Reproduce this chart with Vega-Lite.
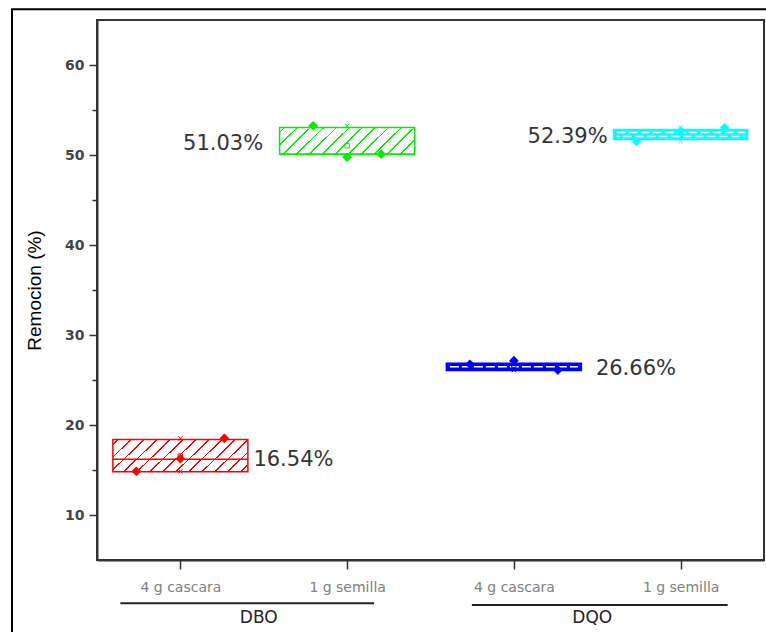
{
  "$schema": "https://vega.github.io/schema/vega-lite/v6.json",
  "width": 667,
  "height": 540,
  "autosize": {"type": "none"},
  "padding": {"left": 97, "top": 20, "right": 2, "bottom": 72},
  "background": "white",
  "config": {
    "view": {"stroke": "#333", "strokeWidth": 2},
    "axis": {"domainColor": "#333", "domainWidth": 2, "tickColor": "#333", "tickWidth": 1.5, "grid": false}
  },
  "datasets": {
    "boxes": [
      {"pos": 1, "group": "DBO", "material": "4 g cascara", "cat": "DBO 4 g cascara", "lower": 14.8, "upper": 18.4, "median": 16.2, "mean": 16.54, "min": 14.85, "max": 18.52, "label": "16.54%"},
      {"pos": 2, "group": "DBO", "material": "1 g semilla", "cat": "DBO 1 g semilla", "lower": 50.08, "upper": 53.05, "median": 50.08, "mean": 51.03, "min": 49.75, "max": 53.25, "label": "51.03%"},
      {"pos": 3, "group": "DQO", "material": "4 g cascara", "cat": "DQO 4 g cascara", "lower": 26.05, "upper": 26.87, "median": 26.47, "mean": 26.66, "min": 26.1, "max": 27.15, "label": "26.66%"},
      {"pos": 4, "group": "DQO", "material": "1 g semilla", "cat": "DQO 1 g semilla", "lower": 51.72, "upper": 52.82, "median": 52.27, "mean": 52.39, "min": 51.5, "max": 53.02, "label": "52.39%"}
    ],
    "points": [
      {"pos": 1, "cat": "DBO 4 g cascara", "rep": 1, "value": 14.85},
      {"pos": 1, "cat": "DBO 4 g cascara", "rep": 2, "value": 16.25},
      {"pos": 1, "cat": "DBO 4 g cascara", "rep": 3, "value": 18.52},
      {"pos": 2, "cat": "DBO 1 g semilla", "rep": 1, "value": 53.25},
      {"pos": 2, "cat": "DBO 1 g semilla", "rep": 2, "value": 49.75},
      {"pos": 2, "cat": "DBO 1 g semilla", "rep": 3, "value": 50.1},
      {"pos": 3, "cat": "DQO 4 g cascara", "rep": 1, "value": 26.75},
      {"pos": 3, "cat": "DQO 4 g cascara", "rep": 2, "value": 27.15},
      {"pos": 3, "cat": "DQO 4 g cascara", "rep": 3, "value": 26.1},
      {"pos": 4, "cat": "DQO 1 g semilla", "rep": 1, "value": 51.5},
      {"pos": 4, "cat": "DQO 1 g semilla", "rep": 2, "value": 52.65},
      {"pos": 4, "cat": "DQO 1 g semilla", "rep": 3, "value": 53.02}
    ],
    "groups": [
      {"group": "DBO", "start": 1, "end": 2, "mid": 1.5},
      {"group": "DQO", "start": 3, "end": 4, "mid": 3.5}
    ]
  },
  "data": {"name": "boxes"},
  "layer": [
    {
      "transform": [{"filter": "datum.pos == 1"}],
      "mark": {
        "type": "bar", "width": 135, "stroke": "#ff0000", "strokeWidth": 1.5,
        "fill": {"gradient": "linear", "x1": 0, "y1": 0, "x2": 1.1743, "y2": 0.287, "stops": [
          {"offset": 0, "color": "#ffffff"},
          {"offset": 0.0245, "color": "#ffffff"}, {"offset": 0.0245, "color": "#ff0000"}, {"offset": 0.0355, "color": "#ff0000"}, {"offset": 0.0355, "color": "#ffffff"},
          {"offset": 0.1015, "color": "#ffffff"}, {"offset": 0.1015, "color": "#ff0000"}, {"offset": 0.1125, "color": "#ff0000"}, {"offset": 0.1125, "color": "#ffffff"},
          {"offset": 0.1795, "color": "#ffffff"}, {"offset": 0.1795, "color": "#ff0000"}, {"offset": 0.1905, "color": "#ff0000"}, {"offset": 0.1905, "color": "#ffffff"},
          {"offset": 0.2565, "color": "#ffffff"}, {"offset": 0.2565, "color": "#ff0000"}, {"offset": 0.2675, "color": "#ff0000"}, {"offset": 0.2675, "color": "#ffffff"},
          {"offset": 0.3345, "color": "#ffffff"}, {"offset": 0.3345, "color": "#ff0000"}, {"offset": 0.3455, "color": "#ff0000"}, {"offset": 0.3455, "color": "#ffffff"},
          {"offset": 0.4115, "color": "#ffffff"}, {"offset": 0.4115, "color": "#ff0000"}, {"offset": 0.4225, "color": "#ff0000"}, {"offset": 0.4225, "color": "#ffffff"},
          {"offset": 0.4885, "color": "#ffffff"}, {"offset": 0.4885, "color": "#ff0000"}, {"offset": 0.4995, "color": "#ff0000"}, {"offset": 0.4995, "color": "#ffffff"},
          {"offset": 0.5665, "color": "#ffffff"}, {"offset": 0.5665, "color": "#ff0000"}, {"offset": 0.5775, "color": "#ff0000"}, {"offset": 0.5775, "color": "#ffffff"},
          {"offset": 0.6435, "color": "#ffffff"}, {"offset": 0.6435, "color": "#ff0000"}, {"offset": 0.6545, "color": "#ff0000"}, {"offset": 0.6545, "color": "#ffffff"},
          {"offset": 0.7215, "color": "#ffffff"}, {"offset": 0.7215, "color": "#ff0000"}, {"offset": 0.7325, "color": "#ff0000"}, {"offset": 0.7325, "color": "#ffffff"},
          {"offset": 0.7985, "color": "#ffffff"}, {"offset": 0.7985, "color": "#ff0000"}, {"offset": 0.8095, "color": "#ff0000"}, {"offset": 0.8095, "color": "#ffffff"},
          {"offset": 0.8755, "color": "#ffffff"}, {"offset": 0.8755, "color": "#ff0000"}, {"offset": 0.8865, "color": "#ff0000"}, {"offset": 0.8865, "color": "#ffffff"},
          {"offset": 0.9535, "color": "#ffffff"}, {"offset": 0.9535, "color": "#ff0000"}, {"offset": 0.9645, "color": "#ff0000"}, {"offset": 0.9645, "color": "#ffffff"},
          {"offset": 1, "color": "#ffffff"}
        ]}
      },
      "encoding": {
        "x": {
          "field": "pos", "type": "quantitative",
          "scale": {"domain": [0.5, 4.5], "nice": false, "zero": false, "padding": 0},
          "axis": {
            "values": [1, 2, 3, 4],
            "labelExpr": "datum.value == 1 || datum.value == 3 ? '4 g cascara' : '1 g semilla'",
            "title": null, "tickSize": 9, "labelPadding": 11,
            "labelFont": "DejaVu Sans", "labelFontSize": 14, "labelColor": "#808080",
            "labelFlush": false, "labelOverlap": false
          }
        },
        "y": {
          "field": "lower", "type": "quantitative",
          "scale": {"domain": [5, 65], "nice": false, "zero": false, "padding": 0},
          "axis": {
            "values": [10, 15, 20, 25, 30, 35, 40, 45, 50, 55, 60],
            "labelExpr": "datum.value % 10 == 0 ? datum.label : ''",
            "tickSize": {"condition": {"test": "datum.value % 10 != 0", "value": 5}, "value": 8},
            "labelFont": "DejaVu Sans", "labelFontWeight": "bold", "labelFontSize": 14, "labelColor": "#444", "labelPadding": 5,
            "title": "Remocion (%)", "titleFont": "Liberation Sans", "titleFontSize": 19, "titleFontWeight": "normal", "titleColor": "#000", "titlePadding": 20
          }
        },
        "y2": {"field": "upper"}
      }
    },
    {
      "transform": [{"filter": "datum.pos == 2"}],
      "mark": {
        "type": "bar", "width": 135, "stroke": "#00ee00", "strokeWidth": 1.5,
        "fill": {"gradient": "linear", "x1": 0, "y1": 0, "x2": 1.1538, "y2": 0.2308, "stops": [
          {"offset": 0, "color": "#ffffff"},
          {"offset": 0.0242, "color": "#ffffff"}, {"offset": 0.0242, "color": "#00ee00"}, {"offset": 0.0358, "color": "#00ee00"}, {"offset": 0.0358, "color": "#ffffff"},
          {"offset": 0.1042, "color": "#ffffff"}, {"offset": 0.1042, "color": "#00ee00"}, {"offset": 0.1158, "color": "#00ee00"}, {"offset": 0.1158, "color": "#ffffff"},
          {"offset": 0.1842, "color": "#ffffff"}, {"offset": 0.1842, "color": "#00ee00"}, {"offset": 0.1958, "color": "#00ee00"}, {"offset": 0.1958, "color": "#ffffff"},
          {"offset": 0.2652, "color": "#ffffff"}, {"offset": 0.2652, "color": "#00ee00"}, {"offset": 0.2768, "color": "#00ee00"}, {"offset": 0.2768, "color": "#ffffff"},
          {"offset": 0.3452, "color": "#ffffff"}, {"offset": 0.3452, "color": "#00ee00"}, {"offset": 0.3568, "color": "#00ee00"}, {"offset": 0.3568, "color": "#ffffff"},
          {"offset": 0.4252, "color": "#ffffff"}, {"offset": 0.4252, "color": "#00ee00"}, {"offset": 0.4368, "color": "#00ee00"}, {"offset": 0.4368, "color": "#ffffff"},
          {"offset": 0.5052, "color": "#ffffff"}, {"offset": 0.5052, "color": "#00ee00"}, {"offset": 0.5168, "color": "#00ee00"}, {"offset": 0.5168, "color": "#ffffff"},
          {"offset": 0.5852, "color": "#ffffff"}, {"offset": 0.5852, "color": "#00ee00"}, {"offset": 0.5968, "color": "#00ee00"}, {"offset": 0.5968, "color": "#ffffff"},
          {"offset": 0.6662, "color": "#ffffff"}, {"offset": 0.6662, "color": "#00ee00"}, {"offset": 0.6778, "color": "#00ee00"}, {"offset": 0.6778, "color": "#ffffff"},
          {"offset": 0.7462, "color": "#ffffff"}, {"offset": 0.7462, "color": "#00ee00"}, {"offset": 0.7578, "color": "#00ee00"}, {"offset": 0.7578, "color": "#ffffff"},
          {"offset": 0.8262, "color": "#ffffff"}, {"offset": 0.8262, "color": "#00ee00"}, {"offset": 0.8378, "color": "#00ee00"}, {"offset": 0.8378, "color": "#ffffff"},
          {"offset": 0.9062, "color": "#ffffff"}, {"offset": 0.9062, "color": "#00ee00"}, {"offset": 0.9178, "color": "#00ee00"}, {"offset": 0.9178, "color": "#ffffff"},
          {"offset": 0.9862, "color": "#ffffff"}, {"offset": 0.9862, "color": "#00ee00"}, {"offset": 0.9978, "color": "#00ee00"}, {"offset": 0.9978, "color": "#ffffff"},
          {"offset": 1, "color": "#ffffff"}
        ]}
      },
      "encoding": {
        "x": {"field": "pos", "type": "quantitative"},
        "y": {"field": "lower", "type": "quantitative"},
        "y2": {"field": "upper"}
      }
    },
    {
      "transform": [{"filter": "datum.pos == 3"}],
      "mark": {"type": "bar", "width": 135, "stroke": "#0000ff", "strokeWidth": 1.5, "fill": "#0000ff"},
      "encoding": {
        "x": {"field": "pos", "type": "quantitative"},
        "y": {"field": "lower", "type": "quantitative"},
        "y2": {"field": "upper"}
      }
    },
    {
      "transform": [{"filter": "datum.pos == 4"}],
      "mark": {"type": "bar", "width": 134, "stroke": "#00ffff", "strokeWidth": 1.5, "fill": "#00ffff"},
      "encoding": {
        "x": {"field": "pos", "type": "quantitative"},
        "y": {"field": "lower", "type": "quantitative"},
        "y2": {"field": "upper"}
      }
    },
    {
      "transform": [{"filter": "datum.pos <= 2"}],
      "mark": {"type": "rule", "strokeWidth": 1.5, "xOffset": -67.5, "x2Offset": 67.5},
      "encoding": {
        "x": {"field": "pos", "type": "quantitative"},
        "x2": {"field": "pos"},
        "y": {"field": "median", "type": "quantitative"},
        "color": {"field": "cat", "type": "nominal", "scale": {"domain": ["DBO 4 g cascara", "DBO 1 g semilla", "DQO 4 g cascara", "DQO 1 g semilla"], "range": ["#ff0000", "#00ee00", "#0000ff", "#00ffff"]}, "legend": null}
      }
    },
    {
      "transform": [{"filter": "datum.pos == 3"}],
      "mark": {"type": "rule", "strokeWidth": 1.6, "stroke": "#ffffff", "strokeDash": [9, 3], "xOffset": -64, "x2Offset": 64},
      "encoding": {
        "x": {"field": "pos", "type": "quantitative"},
        "x2": {"field": "pos"},
        "y": {"field": "median", "type": "quantitative"}
      }
    },
    {
      "transform": [{"filter": "datum.pos == 4"}],
      "mark": {"type": "rule", "strokeWidth": 1.5, "stroke": "#ffffff", "strokeDash": [9, 3], "xOffset": -64, "x2Offset": 64, "yOffset": -2},
      "encoding": {
        "x": {"field": "pos", "type": "quantitative"},
        "x2": {"field": "pos"},
        "y": {"field": "median", "type": "quantitative"}
      }
    },
    {
      "transform": [{"filter": "datum.pos == 4"}],
      "mark": {"type": "rule", "strokeWidth": 1.5, "stroke": "#ffffff", "strokeDash": [9, 3], "strokeDashOffset": 6, "xOffset": -64, "x2Offset": 64, "yOffset": 2},
      "encoding": {
        "x": {"field": "pos", "type": "quantitative"},
        "x2": {"field": "pos"},
        "y": {"field": "median", "type": "quantitative"}
      }
    },
    {
      "mark": {"type": "point", "shape": "square", "filled": false, "size": 20, "strokeWidth": 1, "opacity": 1},
      "encoding": {
        "x": {"field": "pos", "type": "quantitative"},
        "y": {"field": "mean", "type": "quantitative"},
        "color": {"field": "cat", "type": "nominal", "legend": null}
      }
    },
    {
      "mark": {"type": "point", "shape": "M-1,-1L1,1M-1,1L1,-1", "filled": false, "size": 18, "strokeWidth": 1, "opacity": 1},
      "encoding": {
        "x": {"field": "pos", "type": "quantitative"},
        "y": {"field": "max", "type": "quantitative"},
        "color": {"field": "cat", "type": "nominal", "legend": null}
      }
    },
    {
      "mark": {"type": "point", "shape": "M-1,-1L1,1M-1,1L1,-1", "filled": false, "size": 18, "strokeWidth": 1, "opacity": 1},
      "encoding": {
        "x": {"field": "pos", "type": "quantitative"},
        "y": {"field": "min", "type": "quantitative"},
        "color": {"field": "cat", "type": "nominal", "legend": null}
      }
    },
    {
      "data": {"name": "points"},
      "transform": [{"filter": "datum.rep == 2"}],
      "mark": {"type": "point", "shape": "diamond", "filled": true, "size": 95, "opacity": 1},
      "encoding": {
        "x": {"field": "pos", "type": "quantitative"},
        "y": {"field": "value", "type": "quantitative"},
        "color": {"field": "cat", "type": "nominal", "legend": null}
      }
    },
    {
      "data": {"name": "points"},
      "transform": [{"filter": "datum.rep == 1 && datum.pos != 2"}],
      "mark": {"type": "point", "shape": "diamond", "filled": true, "size": 95, "opacity": 1, "xOffset": -44},
      "encoding": {
        "x": {"field": "pos", "type": "quantitative"},
        "y": {"field": "value", "type": "quantitative"},
        "color": {"field": "cat", "type": "nominal", "legend": null}
      }
    },
    {
      "data": {"name": "points"},
      "transform": [{"filter": "datum.rep == 3 && datum.pos != 2"}],
      "mark": {"type": "point", "shape": "diamond", "filled": true, "size": 95, "opacity": 1, "xOffset": 44},
      "encoding": {
        "x": {"field": "pos", "type": "quantitative"},
        "y": {"field": "value", "type": "quantitative"},
        "color": {"field": "cat", "type": "nominal", "legend": null}
      }
    },
    {
      "data": {"name": "points"},
      "transform": [{"filter": "datum.rep == 1 && datum.pos == 2"}],
      "mark": {"type": "point", "shape": "diamond", "filled": true, "size": 95, "opacity": 1, "xOffset": -34},
      "encoding": {
        "x": {"field": "pos", "type": "quantitative"},
        "y": {"field": "value", "type": "quantitative"},
        "color": {"field": "cat", "type": "nominal", "legend": null}
      }
    },
    {
      "data": {"name": "points"},
      "transform": [{"filter": "datum.rep == 3 && datum.pos == 2"}],
      "mark": {"type": "point", "shape": "diamond", "filled": true, "size": 95, "opacity": 1, "xOffset": 34},
      "encoding": {
        "x": {"field": "pos", "type": "quantitative"},
        "y": {"field": "value", "type": "quantitative"},
        "color": {"field": "cat", "type": "nominal", "legend": null}
      }
    },
    {
      "transform": [{"filter": "datum.pos == 1"}],
      "mark": {"type": "text", "align": "left", "baseline": "middle", "dx": 73, "dy": 4, "font": "DejaVu Sans", "fontSize": 21, "color": "#333"},
      "encoding": {
        "x": {"field": "pos", "type": "quantitative"},
        "y": {"field": "mean", "type": "quantitative"},
        "text": {"field": "label"}
      }
    },
    {
      "transform": [{"filter": "datum.pos == 3"}],
      "mark": {"type": "text", "align": "left", "baseline": "middle", "dx": 82, "dy": 4, "font": "DejaVu Sans", "fontSize": 21, "color": "#333"},
      "encoding": {
        "x": {"field": "pos", "type": "quantitative"},
        "y": {"field": "mean", "type": "quantitative"},
        "text": {"field": "label"}
      }
    },
    {
      "transform": [{"filter": "datum.pos == 2"}],
      "mark": {"type": "text", "align": "right", "baseline": "middle", "dx": -84, "dy": -2, "font": "DejaVu Sans", "fontSize": 21, "color": "#333"},
      "encoding": {
        "x": {"field": "pos", "type": "quantitative"},
        "y": {"field": "mean", "type": "quantitative"},
        "text": {"field": "label"}
      }
    },
    {
      "transform": [{"filter": "datum.pos == 4"}],
      "mark": {"type": "text", "align": "right", "baseline": "middle", "dx": -73, "dy": 4, "font": "DejaVu Sans", "fontSize": 21, "color": "#333"},
      "encoding": {
        "x": {"field": "pos", "type": "quantitative"},
        "y": {"field": "mean", "type": "quantitative"},
        "text": {"field": "label"}
      }
    },
    {
      "data": {"name": "groups"},
      "transform": [{"filter": "datum.group == 'DBO'"}],
      "mark": {"type": "rule", "stroke": "#222", "strokeWidth": 2, "xOffset": -60, "x2Offset": 27},
      "encoding": {
        "x": {"field": "start", "type": "quantitative"},
        "x2": {"field": "end"},
        "y": {"datum": 0.2, "type": "quantitative"}
      }
    },
    {
      "data": {"name": "groups"},
      "transform": [{"filter": "datum.group == 'DQO'"}],
      "mark": {"type": "rule", "stroke": "#222", "strokeWidth": 2, "xOffset": -42, "x2Offset": 47},
      "encoding": {
        "x": {"field": "start", "type": "quantitative"},
        "x2": {"field": "end"},
        "y": {"datum": 0.0, "type": "quantitative"}
      }
    },
    {
      "data": {"name": "groups"},
      "mark": {"type": "text", "align": "center", "baseline": "middle", "dx": -5, "font": "DejaVu Sans", "fontSize": 17, "color": "#222"},
      "encoding": {
        "x": {"field": "mid", "type": "quantitative"},
        "y": {"datum": -1.45, "type": "quantitative"},
        "text": {"field": "group"}
      }
    },
    {
      "data": {"values": [{}]},
      "mark": {"type": "rect", "fill": "white", "fillOpacity": 0, "stroke": "#000", "strokeWidth": 2},
      "encoding": {
        "x": {"datum": -0.0097, "type": "quantitative"},
        "x2": {"datum": 6},
        "y": {"datum": 66.2, "type": "quantitative"},
        "y2": {"datum": -30}
      }
    }
  ]
}
